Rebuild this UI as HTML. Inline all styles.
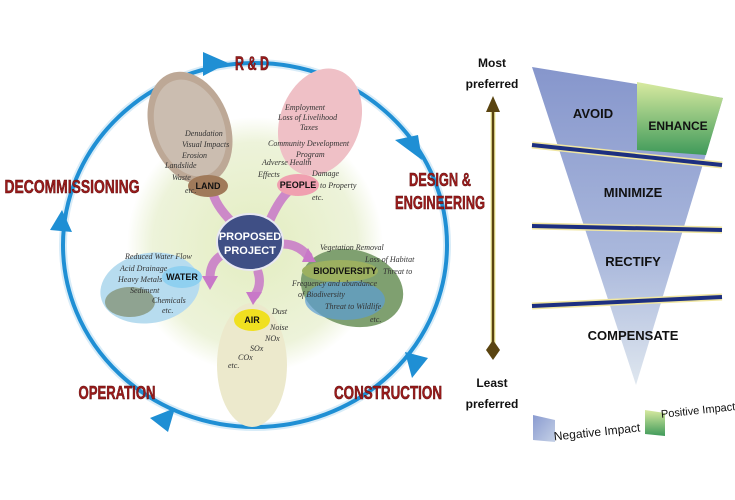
<!DOCTYPE html>
<html><head><meta charset="utf-8"><style>
html,body{margin:0;padding:0;background:#fff;}
svg{display:block;}
.st{font-family:"Liberation Sans",sans-serif;font-weight:bold;fill:#9b1b1b;stroke:#5a0c0c;stroke-width:0.5;}
.sm{font-family:"Liberation Serif",serif;font-style:italic;font-size:8px;fill:#333;}
.lb{font-family:"Liberation Sans",sans-serif;font-weight:bold;font-size:9px;fill:#111;text-anchor:middle;}
.fn{font-family:"Liberation Sans",sans-serif;font-weight:bold;font-size:13px;fill:#111;text-anchor:middle;}
.pr{font-family:"Liberation Sans",sans-serif;font-weight:bold;font-size:12px;fill:#111;text-anchor:middle;}
</style></head><body>
<svg width="735" height="500" viewBox="0 0 735 500" xmlns="http://www.w3.org/2000/svg">
<defs>
<radialGradient id="glow" cx="50%" cy="50%" r="50%">
<stop offset="0" stop-color="#e3edc0"/><stop offset="0.8" stop-color="#edf3da"/><stop offset="1" stop-color="#fff"/>
</radialGradient>
<linearGradient id="neg" x1="0" y1="0" x2="1" y2="1"><stop offset="0" stop-color="#8a9bd0"/><stop offset="1" stop-color="#c4d0e6"/></linearGradient>
<linearGradient id="pos" x1="0" y1="0" x2="0" y2="1"><stop offset="0" stop-color="#d8eaa0"/><stop offset="1" stop-color="#3f9a5a"/></linearGradient>
<linearGradient id="negv" x1="0" y1="0" x2="0" y2="1"><stop offset="0" stop-color="#8696cc"/><stop offset="0.6" stop-color="#aab8dc"/><stop offset="1" stop-color="#dfe7ef"/></linearGradient>
</defs>

<circle cx="255" cy="245" r="128" fill="url(#glow)"/>
<ellipse cx="255" cy="245" rx="192" ry="182" fill="none" stroke="#d8ecf8" stroke-width="8"/>
<ellipse cx="255" cy="245" rx="192" ry="182" fill="none" stroke="#1f8fd4" stroke-width="4"/>
<polygon points="203,52 228,63 203,76" fill="#1f8fd4"/>
<polygon points="395,140 422,160 418,135" fill="#1f8fd4"/>
<polygon points="405,352 428,358 412,378" fill="#1f8fd4"/>
<polygon points="175,408 168,432 150,418" fill="#1f8fd4"/>
<polygon points="50,230 62,210 72,232" fill="#1f8fd4"/>

<ellipse cx="190" cy="128" rx="40" ry="58" transform="rotate(-20 190 128)" fill="#bda896"/>
<ellipse cx="190" cy="128" rx="34" ry="50" transform="rotate(-20 190 128)" fill="#d4cbc1" opacity="0.6"/>
<ellipse cx="320" cy="122" rx="40" ry="55" transform="rotate(20 320 122)" fill="#efc0c6"/>
<ellipse cx="352" cy="288" rx="52" ry="38" transform="rotate(15 352 288)" fill="#7fa070"/>
<ellipse cx="345" cy="300" rx="40" ry="20" fill="#5b9cd4" opacity="0.7"/>
<ellipse cx="252" cy="365" rx="35" ry="62" fill="#ece9cc"/>
<ellipse cx="150" cy="288" rx="50" ry="35" transform="rotate(-10 150 288)" fill="#b7dcef"/>
<ellipse cx="130" cy="302" rx="25" ry="15" fill="#7d8a6a" opacity="0.7"/>

<g fill="none" stroke="#c878c8" stroke-width="9" stroke-linecap="round" opacity="0.85">
<path d="M232,222 Q215,205 212,190"/><path d="M270,220 Q280,198 290,190"/>
<path d="M283,244 Q298,244 308,256"/><path d="M258,272 Q262,285 255,295"/>
<path d="M222,255 Q210,262 210,278"/>
</g>
<g fill="#c878c8">
<polygon points="205,192 212,178 222,192"/><polygon points="283,188 298,180 296,196"/>
<polygon points="302,262 316,262 308,248"/><polygon points="246,292 262,292 253,305"/>
<polygon points="202,276 218,276 210,290"/>
</g>

<ellipse cx="250" cy="242" rx="33" ry="28" fill="#3f4f85" stroke="#e8e8f2" stroke-width="2"/>
<text x="250" y="240" class="lb" style="fill:#fff;font-size:11px">PROPOSED</text>
<text x="250" y="254" class="lb" style="fill:#fff;font-size:11px">PROJECT</text>

<ellipse cx="208" cy="186" rx="20" ry="11" fill="#a07a5a"/><text x="208" y="189" class="lb">LAND</text>
<ellipse cx="298" cy="185" rx="21" ry="11" fill="#f0a0b0"/><text x="298" y="188" class="lb">PEOPLE</text>
<ellipse cx="340" cy="271" rx="38" ry="11" fill="#9cb060"/><text x="345" y="274" class="lb">BIODIVERSITY</text>
<ellipse cx="252" cy="320" rx="18" ry="11" fill="#f0e020"/><text x="252" y="323" class="lb">AIR</text>
<ellipse cx="182" cy="277" rx="20" ry="11" fill="#8fd0f0"/><text x="182" y="280" class="lb">WATER</text>

<text x="185" y="136" class="sm">Denudation</text><text x="182" y="147" class="sm">Visual Impacts</text>
<text x="182" y="158" class="sm">Erosion</text><text x="165" y="168" class="sm">Landslide</text>
<text x="172" y="180" class="sm">Waste</text><text x="185" y="193" class="sm">etc.</text>
<text x="285" y="110" class="sm">Employment</text><text x="278" y="120" class="sm">Loss of Livelihood</text>
<text x="300" y="130" class="sm">Taxes</text><text x="268" y="146" class="sm">Community Development</text>
<text x="296" y="157" class="sm">Program</text><text x="262" y="165" class="sm">Adverse Health</text>
<text x="312" y="176" class="sm">Damage</text><text x="258" y="177" class="sm">Effects</text>
<text x="320" y="188" class="sm">to Property</text><text x="312" y="200" class="sm">etc.</text>
<text x="320" y="250" class="sm">Vegetation Removal</text><text x="365" y="262" class="sm">Loss of Habitat</text>
<text x="383" y="274" class="sm">Threat to</text><text x="292" y="286" class="sm">Frequency and abundance</text>
<text x="298" y="297" class="sm">of Biodiversity</text><text x="325" y="309" class="sm">Threat to Wildlife</text>
<text x="370" y="322" class="sm">etc.</text>
<text x="125" y="259" class="sm">Reduced Water Flow</text><text x="120" y="271" class="sm">Acid Drainage</text>
<text x="118" y="282" class="sm">Heavy Metals</text><text x="130" y="293" class="sm">Sediment</text>
<text x="152" y="303" class="sm">Chemicals</text><text x="162" y="313" class="sm">etc.</text>
<text x="272" y="314" class="sm">Dust</text><text x="270" y="330" class="sm">Noise</text>
<text x="265" y="341" class="sm">NOx</text><text x="250" y="351" class="sm">SOx</text>
<text x="238" y="360" class="sm">COx</text><text x="228" y="368" class="sm">etc.</text>

<text x="252" y="70" class="st" font-size="19" text-anchor="middle" textLength="34" lengthAdjust="spacingAndGlyphs">R &amp; D</text>
<text x="72" y="193" class="st" font-size="18" text-anchor="middle" textLength="135" lengthAdjust="spacingAndGlyphs">DECOMMISSIONING</text>
<text x="440" y="186" class="st" font-size="18" text-anchor="middle" textLength="62" lengthAdjust="spacingAndGlyphs">DESIGN &amp;</text>
<text x="440" y="209" class="st" font-size="18" text-anchor="middle" textLength="90" lengthAdjust="spacingAndGlyphs">ENGINEERING</text>
<text x="117" y="399" class="st" font-size="18" text-anchor="middle" textLength="77" lengthAdjust="spacingAndGlyphs">OPERATION</text>
<text x="388" y="399" class="st" font-size="18" text-anchor="middle" textLength="108" lengthAdjust="spacingAndGlyphs">CONSTRUCTION</text>

<text x="492" y="67" class="pr">Most</text><text x="492" y="88" class="pr">preferred</text>
<line x1="493" y1="108" x2="493" y2="345" stroke="#f4f0a0" stroke-width="5"/>
<line x1="493" y1="108" x2="493" y2="345" stroke="#5a4410" stroke-width="2.5"/>
<polygon points="486,112 493,96 500,112" fill="#5a4410"/>
<polygon points="493,340 500,350 493,360 486,350" fill="#5a4410"/>
<text x="492" y="387" class="pr">Least</text><text x="492" y="408" class="pr">preferred</text>

<polygon points="532,67 723,98 636,385" fill="url(#negv)"/>
<polygon points="637,82 723,98 706,155 637,150" fill="url(#pos)"/>
<line x1="532" y1="145" x2="722" y2="165" stroke="#f0e6a0" stroke-width="7"/>
<line x1="532" y1="145" x2="722" y2="165" stroke="#1d2f80" stroke-width="4"/>
<line x1="532" y1="226" x2="722" y2="230" stroke="#f0e6a0" stroke-width="7"/>
<line x1="532" y1="226" x2="722" y2="230" stroke="#1d2f80" stroke-width="4"/>
<line x1="532" y1="306" x2="722" y2="297" stroke="#f0e6a0" stroke-width="7"/>
<line x1="532" y1="306" x2="722" y2="297" stroke="#1d2f80" stroke-width="4"/>
<text x="593" y="118" class="fn">AVOID</text>
<text x="678" y="130" class="fn" style="font-size:12px">ENHANCE</text>
<text x="633" y="197" class="fn">MINIMIZE</text>
<text x="633" y="266" class="fn">RECTIFY</text>
<text x="633" y="340" class="fn">COMPENSATE</text>

<polygon points="533,415 555,420 555,442 533,440" fill="url(#neg)"/>
<text x="597" y="436" class="pr" style="font-weight:normal;font-size:12px" transform="rotate(-6 597 432)">Negative Impact</text>
<polygon points="645,410 665,413 665,436 645,434" fill="url(#pos)"/>
<text x="698" y="414" class="pr" style="font-weight:normal;font-size:11px" transform="rotate(-6 698 410)">Positive Impact</text>
</svg>
</body></html>
